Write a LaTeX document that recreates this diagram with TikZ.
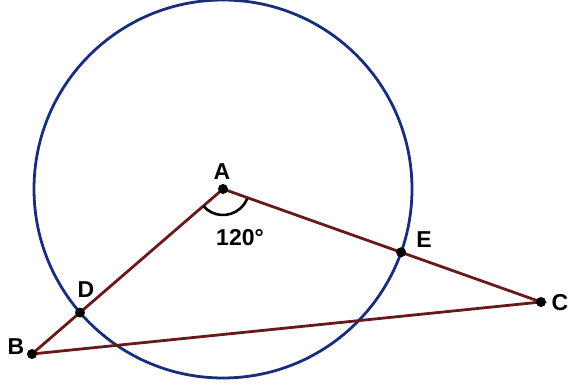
\documentclass[tikz,border=0pt]{standalone}
\usepackage{fontspec}
\setmainfont{Liberation Sans}
\usepackage{xcolor}
\usetikzlibrary{calc}

\definecolor{circblue}{RGB}{25,45,125}
\definecolor{segred}{RGB}{105,25,25}

\begin{document}
\begin{tikzpicture}[
  x=1pt, y=1pt,
  font=\fontsize{23}{27}\selectfont\bfseries,
  seg/.style={line width=2.8pt, color=segred},
  circ/.style={line width=2.8pt, color=circblue},
  pt/.style={circle, fill=black, inner sep=0pt, minimum size=10pt},
  lbl/.style={inner sep=1pt},
]
\useasboundingbox (0,0) rectangle (570,388);

\coordinate (A) at (223,199);
\coordinate (B) at (32,34);
\coordinate (C) at (541,86);
\coordinate (D) at ($(A)!189pt!(B)$);
\coordinate (E) at ($(A)!189pt!(C)$);

\draw[circ] (A) circle[radius=189pt];

\draw[seg] (A) -- (B) -- (C) -- cycle;

% angle mark at A
\draw[line width=2.6pt] (A) ++(221:26pt) arc[start angle=221, end angle=338, radius=26pt];

\node[pt] (a) at (A) {};
\node[pt] (b) at (B) {};
\node[pt] (c) at (C) {};
\node[pt] (d) at (D) {};
\node[pt] (e) at (E) {};

\node[lbl] (la) at (222,216) {A};
\node[lbl] (lb) at (16,41) {B};
\node[lbl] (lc) at (560,85) {C};
\node[lbl] (ld) at (86,98) {D};
\node[lbl] (le) at (424,148) {E};
\node[lbl] (deg) at (240,150) {120°};
\end{tikzpicture}
\end{document}
